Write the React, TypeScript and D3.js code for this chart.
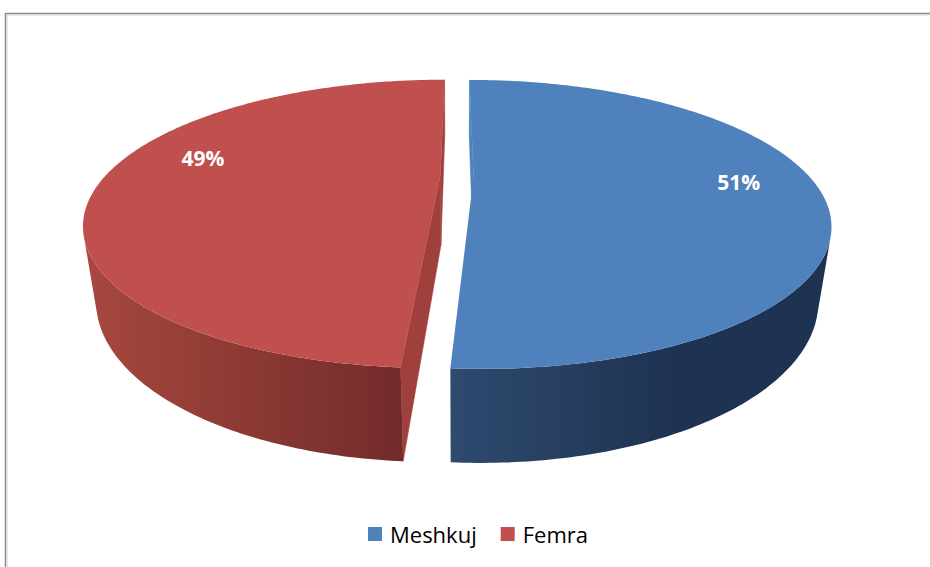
import React from 'react';
import * as d3 from 'd3';

// ---- data ----
const categories = ['Meshkuj', 'Femra'];
const values = [51, 49];
const labelTexts = ['51%', '49%'];
const topColors = ['#4F81BD', '#C0504D'];
const wallLight = ['#2e4a6f', '#a7483f'];
const wallDark = ['#1e3251', '#722b2a'];
const radialColors = ['#4F81BD', '#a0403d'];
// label placement along slice (fraction of radius, angle shift in degrees)
const labelRadius = [0.78, 0.76];
const labelShift = [1.2, 9.3];

// ---- layout / 3D view ----
const W = 930;
const H = 567;
const CX = 457;
const CY = 176;
const FOCAL = 929;
const ELEV = (22.5 * Math.PI) / 180;
const SIN = Math.sin(ELEV);
const COS = Math.cos(ELEV);
const DIST = 3 * COS;
const THICK = 0.232;
const EXPLODE = 0.0496;
const CAM = [0, DIST * SIN, DIST * COS];

function proj(X: number, Y: number, Z: number): [number, number] {
  const zc = DIST - (Z * COS + Y * SIN);
  const yc = Y * COS - Z * SIN;
  return [CX + (FOCAL * X) / zc, CY - (FOCAL * yc) / zc];
}

type Off = { x: number; z: number };
function rim(a: number, r: number, Y: number, o: Off): [number, number] {
  return proj(r * Math.sin(a) + o.x, Y, -r * Math.cos(a) + o.z);
}

const line = d3.line();
function poly(pts: [number, number][]) {
  return line(pts) + 'Z';
}

function visible(P: number[], n: number[]) {
  const v = [CAM[0] - P[0], CAM[1] - P[1], CAM[2] - P[2]];
  return v[0] * n[0] + v[1] * n[1] + v[2] * n[2] > 0;
}

export default function App() {
  const pie = d3
    .pie<number>()
    .sort(null)
    .startAngle(0)
    .endAngle(2 * Math.PI)
    .value((d) => d);
  const arcs = pie(values);

  const radialPaths: JSX.Element[] = [];
  const wallPaths: JSX.Element[] = [];
  const topPaths: JSX.Element[] = [];
  const labelEls: JSX.Element[] = [];
  const grads: JSX.Element[] = [];

  arcs.forEach((arc, i) => {
    const a0 = arc.startAngle;
    const a1 = arc.endAngle;
    const bis = (a0 + a1) / 2;
    const o: Off = { x: EXPLODE * Math.sin(bis), z: -EXPLODE * Math.cos(bis) };
    const N = 240;
    const angles = d3.range(N + 1).map((k) => a0 + ((a1 - a0) * k) / N);

    // radial walls
    const edges = [
      { a: a0, n: [-Math.cos(a0), 0, -Math.sin(a0)] },
      { a: a1, n: [Math.cos(a1), 0, Math.sin(a1)] },
    ];
    edges.forEach((e, j) => {
      const P = [o.x, -THICK / 2, o.z];
      if (!visible(P, e.n)) return;
      const pts: [number, number][] = [
        proj(o.x, 0, o.z),
        rim(e.a, 1, 0, o),
        rim(e.a, 1, -THICK, o),
        proj(o.x, -THICK, o.z),
      ];
      radialPaths.push(
        <path key={`r${i}${j}`} d={poly(pts)} fill={radialColors[i]} stroke={radialColors[i]} strokeWidth={0.5} />
      );
    });

    // outer walls: contiguous visible runs
    const vis = angles.map((a) =>
      visible([Math.sin(a) + o.x, -THICK / 2, -Math.cos(a) + o.z], [Math.sin(a), 0, -Math.cos(a)])
    );
    const runs: number[][] = [];
    let cur: number[] = [];
    angles.forEach((a, k) => {
      if (vis[k]) cur.push(a);
      else if (cur.length) {
        runs.push(cur);
        cur = [];
      }
    });
    if (cur.length) runs.push(cur);

    const allWall = runs.flat().flatMap((a) => [rim(a, 1, 0, o)[0], rim(a, 1, -THICK, o)[0]]);
    const gx0 = d3.min(allWall) ?? 0;
    const gx1 = d3.max(allWall) ?? 1;
    const gid = `wall${i}`;
    grads.push(
      <linearGradient key={gid} id={gid} gradientUnits="userSpaceOnUse" x1={gx0} x2={i === 0 ? gx0 + (gx1 - gx0) * 0.6 : gx1} y1={0} y2={0}>
        <stop offset="0" stopColor={wallLight[i]} />
        <stop offset="1" stopColor={wallDark[i]} />
      </linearGradient>
    );
    runs.forEach((run, j) => {
      if (run.length < 2) return;
      const top = run.map((a) => rim(a, 1, 0, o));
      const bot = run.map((a) => rim(a, 1, -THICK, o)).reverse();
      wallPaths.push(
        <path key={`w${i}${j}`} d={poly([...top, ...bot])} fill={`url(#${gid})`} />
      );
    });

    // top face
    const topPts: [number, number][] = [proj(o.x, 0, o.z), ...angles.map((a) => rim(a, 1, 0, o))];
    topPaths.push(<path key={`t${i}`} d={poly(topPts)} fill={topColors[i]} />);

    // label
    const la = bis + (labelShift[i] * Math.PI) / 180;
    const [lx, ly] = rim(la, labelRadius[i], 0, o);
    labelEls.push(
      <text
        key={`l${i}`}
        x={lx}
        y={ly}
        textAnchor="middle"
        dominantBaseline="central"
        fill="#ffffff"
        fontFamily="'Open Sans', 'Liberation Sans', sans-serif"
        fontWeight={700}
        fontSize={21}
      >
        {labelTexts[i]}
      </text>
    );
  });

  // legend layout (measured text)
  const legendFont = "22px 'Open Sans'";
  let measure = (t: string) => t.length * 11;
  try {
    const ctx = document.createElement('canvas').getContext('2d');
    if (ctx) {
      ctx.font = legendFont;
      measure = (t: string) => ctx.measureText(t).width;
    }
  } catch (e) {}
  const sw = 14;
  const gapText = 8;
  const gapItem = 24;
  const widths = categories.map((c) => sw + gapText + measure(c));
  const total = d3.sum(widths) + gapItem * (categories.length - 1);
  const legendCenter = 478;
  let lxCur = legendCenter - total / 2;
  const legendY = 534;
  const legendEls = categories.map((c, i) => {
    const x = lxCur;
    lxCur += widths[i] + gapItem;
    return (
      <g key={`lg${i}`}>
        <rect x={x} y={legendY - sw / 2} width={sw} height={sw} fill={topColors[i]} />
        <text
          x={x + sw + gapText}
          y={legendY}
          dominantBaseline="central"
          fontFamily="'Open Sans', sans-serif"
          fontSize={22}
          fill="#000"
        >
          {c}
        </text>
      </g>
    );
  });

  return (
    <svg
      width={W}
      height={H}
      style={{ position: 'absolute', left: 0, top: 0, background: '#fff' }}
    >
      <defs>{grads}</defs>
      <rect x={0} y={0} width={W} height={H} fill="#fff" />
      <rect x={5.5} y={13.5} width={W + 20} height={H + 20} fill="none" stroke="#8a8a8a" strokeWidth={1.5} />
      <rect x={7} y={15} width={W + 20} height={H + 20} fill="none" stroke="#d6d6d6" strokeWidth={1} />
      {radialPaths}
      {wallPaths}
      {topPaths}
      {labelEls}
      {legendEls}
    </svg>
  );
}
